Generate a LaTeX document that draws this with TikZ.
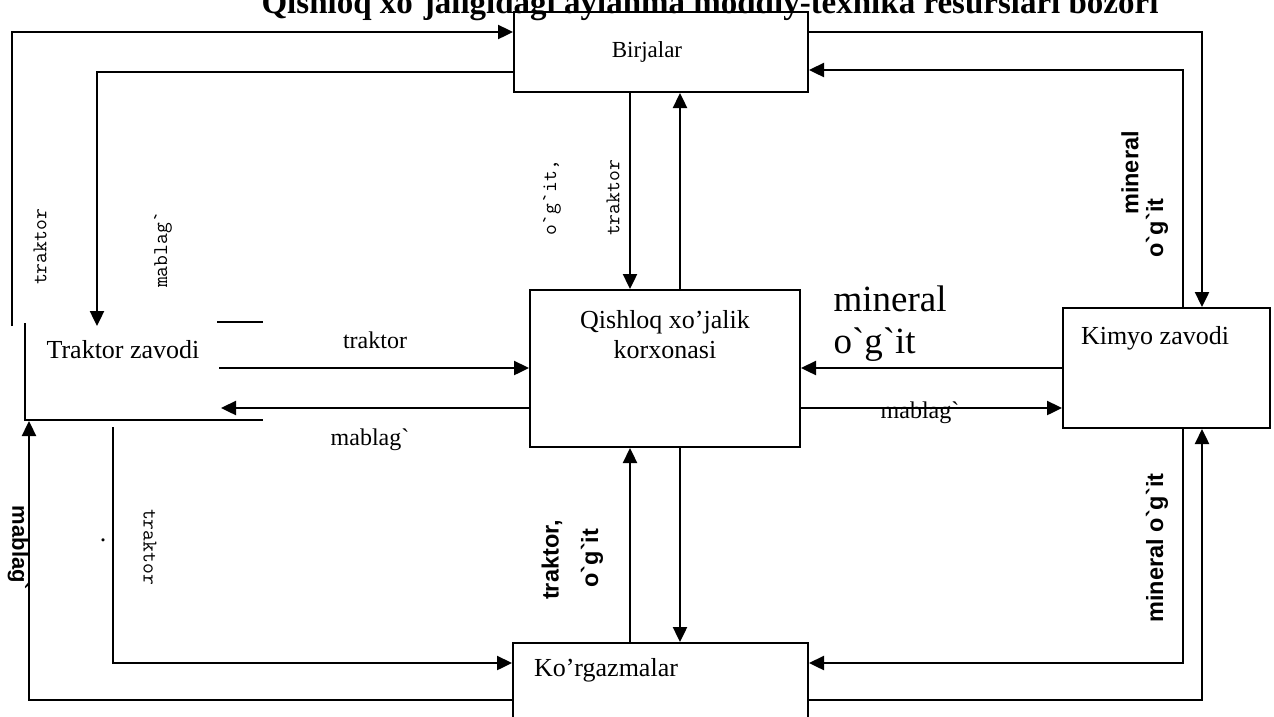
\documentclass[tikz,border=0pt]{standalone}
\usepackage{fontspec}
\setmainfont{Liberation Serif}
\setsansfont{Liberation Sans}
\usetikzlibrary{arrows.meta,positioning}
\tikzset{
    box/.style={draw,line width=2pt,inner sep=0pt},
    lbl/.style={font=\fontsize{26}{30}\selectfont},
    small/.style={font=\fontsize{24}{28}\selectfont},
    big/.style={font=\fontsize{37}{42}\selectfont},
    mono/.style={font=\ttfamily\fontsize{21}{24}\selectfont,rotate=90},
    bsans/.style={font=\sffamily\bfseries\fontsize{23.5}{26}\selectfont,rotate=90},
    pre/.style={-{Triangle[length=15pt,width=14pt]},line width=2.4pt},
    bi/.style={-,line width=2.2pt}
}
\newcommand{\bq}{\textasciigrave}
\begin{document}
\begin{tikzpicture}[x=1pt,y=-1pt]
\useasboundingbox (0,0) rectangle (1274,716);

% title, cut at the top edge
\node[font=\bfseries\fontsize{33}{36}\selectfont,anchor=base] (title) at (710,13)
    {Qishloq xo\bq jaligidagi aylanma moddiy-texnika resurslari bozori};

% boxes
\node[box,minimum width=294pt,minimum height=80pt]  (birja) at (661,52) {};
\node[font=\fontsize{23}{27}\selectfont] (birjaText) at (647,52) {Birjalar};
\node[box,minimum width=270pt,minimum height=157pt] (qish)  at (665,368.5) {};
\node[lbl,align=center] (qishText) at (665,335) {Qishloq xo’jalik\\korxonasi};
\node[box,minimum width=207pt,minimum height=120pt] (kimyo) at (1166.5,368) {};
\node[lbl] (kimyoText) at (1155,338) {Kimyo zavodi};
\node[box,minimum width=295pt,minimum height=100pt] (korg)  at (660.5,693) {};
\node[lbl] (korgText) at (606,670) {Ko’rgazmalar};
\node[lbl] (tz) at (123,350) {Traktor zavodi};
\draw[bi] (25,323) -- (25,420) -- (263,420);
\draw[bi] (217,322) -- (263,322);

% free ends and levels
\coordinate (tzOut) at (12,326);
\coordinate (tzIn)  at (97,326);
\coordinate (tzR1)  at (219,368);
\coordinate (tzR2)  at (221,408);
\coordinate (tzB1)  at (113,427);
\coordinate (tzB2)  at (29,421);
\coordinate (xA)  at (630,0);
\coordinate (xB)  at (680,0);
\coordinate (xK1) at (1183,0);
\coordinate (xK2) at (1202,0);
\coordinate (yT1) at (0,32);
\coordinate (yT2) at (0,72);
\coordinate (yT3) at (0,70);
\coordinate (yM1) at (0,368);
\coordinate (yM2) at (0,408);
\coordinate (yB1) at (0,663);
\coordinate (yB2) at (0,700);

% connectors
\draw[pre] (tzOut) |- (birja.west |- yT1);
\draw[pre] (birja.west |- yT2) -| (tzIn);
\draw[pre] (birja.east |- yT1) -| (kimyo.north -| xK2);
\draw[pre] (kimyo.north -| xK1) |- (birja.east |- yT3);
\draw[pre] (birja.south -| xA) -- (qish.north -| xA);
\draw[pre] (qish.north -| xB) -- (birja.south -| xB);
\draw[pre] (tzR1) -- (qish.west |- tzR1);
\draw[pre] (qish.west |- yM2) -- (tzR2);
\draw[pre] (kimyo.west |- yM1) -- (qish.east |- yM1);
\draw[pre] (qish.east |- yM2) -- (kimyo.west |- yM2);
\draw[pre] (korg.north -| xA) -- (qish.south -| xA);
\draw[pre] (qish.south -| xB) -- (korg.north -| xB);
\draw[pre] (tzB1) |- (korg.west |- yB1);
\draw[pre] (korg.west |- yB2) -| (tzB2);
\draw[pre] (kimyo.south -| xK1) |- (korg.east |- yB1);
\draw[pre] (korg.east |- yB2) -| (kimyo.south -| xK2);

% labels
\node[mono] (lOgit1)  at (552,198) {o\bq g\bq it,};
\node[mono] (lTrak1)  at (613,198) {traktor};
\node[mono] (lTrak2)  at (40,247)  {traktor};
\node[mono] (lMab1)   at (163,250) {mablag\bq};
\node[mono,rotate=180] (lTrak3) at (150,547) {traktor};
\node[lbl] (lDot) at (103,540) {.};
\node[small] (lTrak4) at (375,340) {traktor};
\node[small] (lMab2)  at (370,440) {mablag\bq};
\node[small] (lMab3)  at (920,413) {mablag\bq};
\node[big,align=left,anchor=west] (lMin1) at (830,324) {mineral\\o\bq g\bq it};
\node[bsans] (lMin2)  at (1130,173) {mineral};
\node[bsans] (lOgit2) at (1157,228) {o\bq g\bq it};
\node[bsans] (lMin3)  at (1157,548) {mineral o\bq g\bq it};
\node[bsans] (lTrak5) at (552,560) {traktor,};
\node[bsans] (lOgit3) at (592,558) {o\bq g\bq it};
\node[bsans,rotate=180,font=\sffamily\bfseries\fontsize{22}{24}\selectfont] (lMab4) at (18,548) {mablag\bq};

\end{tikzpicture}
\end{document}
